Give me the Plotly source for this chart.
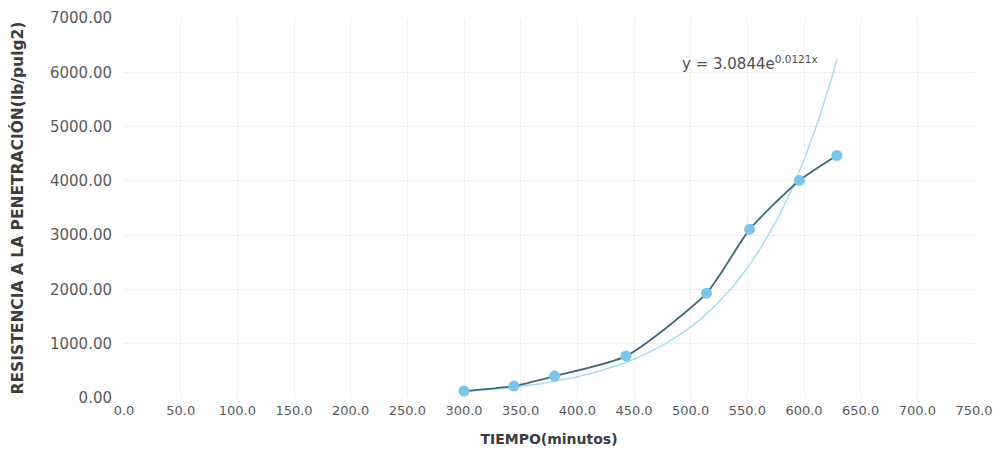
import numpy as np
import plotly.graph_objects as go

# Data
tiempo = [300, 344, 380, 443, 514, 552, 596, 629]
resistencia = [129, 221, 404, 772, 1930, 3107, 4007, 4467]

# Exponential trendline coefficients (from the equation label)
coef_a = 3.0844
coef_b = 0.0121
trend_label = "y = 3.0844e<sup>0.0121x</sup>"

x_ticks = [i * 50 for i in range(16)]
y_ticks = [i * 1000 for i in range(8)]

xt = np.linspace(min(tiempo), max(tiempo), 200)
yt = coef_a * np.exp(coef_b * xt)

FONT = "DejaVu Sans, Liberation Sans, Arial"

fig = go.Figure()
fig.add_trace(go.Scatter(x=xt, y=yt, mode="lines",
                         line=dict(color="#a8dcef", width=1.5),
                         hoverinfo="skip", showlegend=False))
fig.add_trace(go.Scatter(x=tiempo, y=resistencia, mode="lines+markers",
                         line=dict(color="#3f6a76", width=1.8, shape="spline", smoothing=0.6),
                         marker=dict(color="#7ec4e6", size=11),
                         showlegend=False))

fig.add_annotation(x=614, y=6170, xref="x", yref="y", text=trend_label,
                   showarrow=False, xanchor="right", yanchor="middle",
                   font=dict(family=FONT, size=15, color="#505050"))

fig.update_layout(
    width=987, height=441,
    margin=dict(l=116, r=21, t=10, b=51),
    paper_bgcolor="white", plot_bgcolor="white",
    font=dict(family=FONT, size=14, color="#5a5a5a"),
    xaxis=dict(range=[0, 750], tickvals=x_ticks, ticktext=[f"{v:.1f}" for v in x_ticks],
               showgrid=True, gridcolor="#f0f0f0", zeroline=False, showline=False,
               ticks="", ticklabelstandoff=3, automargin=False,
               ticklabeloverflow="allow",
               tickfont=dict(size=13, color="#5a5a5a"),
               title=dict(text="<b>TIEMPO(minutos)</b>", standoff=17,
                          font=dict(family=FONT, size=14, color="#3c3c3c"))),
    yaxis=dict(range=[0, 7000], tickvals=y_ticks, ticktext=[f"{v:.2f}" for v in y_ticks],
               showgrid=True, gridcolor="#f0f0f0", zeroline=False, showline=False,
               ticks="", ticklabelstandoff=11, automargin=False,
               tickfont=dict(size=15, color="#5a5a5a"),
               title=dict(text="<b>RESISTENCIA A LA PENETRACIÓN(lb/pulg2)</b>", standoff=26,
                          font=dict(family=FONT, size=15.5, color="#3c3c3c"))),
)

fig.write_html("out.html")
